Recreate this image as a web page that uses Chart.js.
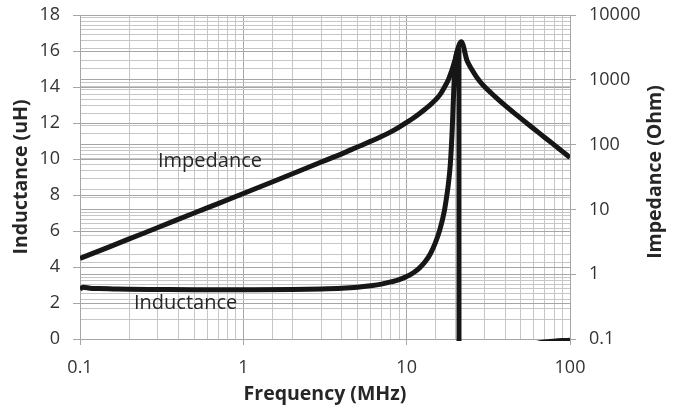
<!DOCTYPE html>
<html>
<head>
<meta charset="utf-8">
<script src="https://cdn.jsdelivr.net/npm/chart.js@4.4.1/dist/chart.umd.min.js"></script>
<style>
  html, body { margin: 0; padding: 0; background: #fff; }
  #wrap { width: 677px; height: 410px; }
</style>
</head>
<body>
<div id="wrap"><canvas id="chart"></canvas></div>
<script>
// impedance curve (MHz / Ohm)
const impFreq = [0.1, 0.15, 0.2, 0.3, 0.5, 0.7, 1, 1.5, 2, 3, 4, 5, 6, 7, 8, 9, 10, 11, 12, 13, 14, 15, 16, 17, 18, 18.5, 19, 19.5, 19.8, 20.3, 20.8, 21.2, 21.6, 22.0, 22.4, 22.8, 23.3, 24, 25, 26.5, 28, 30, 33, 36, 40, 45, 50, 60, 70, 80, 90, 100];
const impOhm = [1.75, 2.62, 3.5, 5.25, 8.8, 12.3, 17.6, 26.5, 35.5, 54, 72, 92, 112, 133, 157, 186, 220, 258, 303, 355, 415, 490, 590, 760, 1000, 1200, 1450, 1800, 2050, 2650, 3300, 3700, 3850, 3600, 3100, 2550, 2050, 1750, 1450, 1150, 950, 780, 620, 508, 403, 315, 254, 176, 129, 99, 78, 63];

// inductance curve (MHz / uH), drops through zero at resonance
const indFreq = [0.1, 0.105, 0.115, 0.13, 0.16, 0.2, 0.3, 0.5, 1, 2, 3, 4, 5, 6, 7, 8, 9, 10, 11, 12, 13, 14, 15, 16, 17, 17.5, 18, 18.5, 19, 19.3, 19.6, 20, 20.4, 20.8, 20.9, 20.95, 22, 25, 30, 40, 50, 60, 70, 80, 90, 100];
const indUH = [2.78, 2.88, 2.82, 2.8, 2.78, 2.76, 2.75, 2.74, 2.74, 2.75, 2.78, 2.82, 2.88, 2.96, 3.05, 3.17, 3.3, 3.47, 3.68, 3.95, 4.3, 4.75, 5.35, 6.1, 7.1, 7.8, 8.6, 9.7, 11.6, 13.2, 14.6, 15.6, 16.0, 16.1, 16.0, -30, -12, -4.5, -2.0, -0.8, -0.45, -0.28, -0.17, -0.12, -0.09, -0.07];

// in-plot labels
const noteText = ['Impedance', 'Inductance'];
const noteFreq = [0.625, 0.443];
const noteUH = [9.55, 1.67];

const majorGrid = '#a6a6a6';
const minorGrid = '#c6c6c6';
const tickText = '#333333';
const titleText = '#262626';

Chart.defaults.font.family = "'Open Sans', sans-serif";

const isDecade = v => Math.abs(Math.log10(v) - Math.round(Math.log10(v))) < 1e-6;
const decadeLabel = v => isDecade(v) ? String(Number(v.toPrecision(3))) : '';
const gridColor = c => (c.tick && isDecade(c.tick.value)) ? majorGrid : minorGrid;
const markColor = c => (c.tick && isDecade(c.tick.value)) ? majorGrid : 'rgba(0,0,0,0)';

const toPoints = (xs, ys) => xs.map((x, i) => ({ x: x, y: ys[i] }));

// fixed box sizes so the plot area lands where the original has it
const fixWidth = w => s => { s.width = w; s.paddingTop = 0; s.paddingBottom = 0; };

// labels inside the plot + right axis title (reads bottom-to-top)
const textLabels = {
  id: 'textLabels',
  afterDatasetsDraw(chart) {
    const { ctx, scales } = chart;
    ctx.save();
    ctx.fillStyle = titleText;
    ctx.font = "20px 'Open Sans'";
    ctx.textAlign = 'center';
    ctx.textBaseline = 'alphabetic';
    noteText.forEach((t, i) => {
      ctx.fillText(t, scales.x.getPixelForValue(noteFreq[i]), scales.y.getPixelForValue(noteUH[i]));
    });
    const y2 = scales.y2;
    ctx.font = "bold 19.5px 'Open Sans'";
    ctx.textBaseline = 'middle';
    ctx.translate(y2.right - 22, (y2.top + y2.bottom) / 2 - 5);
    ctx.rotate(-Math.PI / 2);
    ctx.fillText('Impedance (Ohm)', 0, 0);
    ctx.restore();
  }
};

new Chart(document.getElementById('chart'), {
  type: 'line',
  data: {
    datasets: [
      {
        label: 'Impedance',
        data: toPoints(impFreq, impOhm),
        yAxisID: 'y2',
        borderColor: '#161616',
        borderWidth: 5,
        pointRadius: 0,
        cubicInterpolationMode: 'monotone'
      },
      {
        label: 'Inductance',
        data: toPoints(indFreq, indUH),
        yAxisID: 'y',
        borderColor: '#161616',
        borderWidth: 5,
        pointRadius: 0,
        cubicInterpolationMode: 'monotone',
        clip: { left: 0, top: 0, right: 0, bottom: 2 }
      }
    ]
  },
  options: {
    responsive: true,
    maintainAspectRatio: false,
    animation: false,
    layout: { padding: { top: 15, left: 0, right: 0, bottom: 0 } },
    plugins: { legend: { display: false }, tooltip: { enabled: false } },
    scales: {
      x: {
        type: 'logarithmic',
        min: 0.1,
        max: 100,
        afterFit: s => { s.height = 71; },
        ticks: { autoSkip: false, maxRotation: 0, padding: 12, color: tickText, font: { size: 18 }, callback: decadeLabel },
        grid: { color: gridColor, tickColor: markColor, tickLength: 6 },
        border: { color: majorGrid },
        title: { display: true, text: 'Frequency (MHz)', color: titleText, font: { size: 19.5, weight: 'bold' }, padding: { top: 0, bottom: 4 } }
      },
      y: {
        position: 'left',
        min: 0,
        max: 18,
        afterFit: fixWidth(80),
        ticks: { stepSize: 2, padding: 13, color: tickText, font: { size: 18 } },
        grid: { color: majorGrid, tickLength: 7 },
        border: { color: majorGrid },
        title: { display: true, text: 'Inductance (uH)', color: titleText, font: { size: 19.5, weight: 'bold' }, padding: { top: 10, bottom: 0 } }
      },
      y2: {
        type: 'logarithmic',
        position: 'right',
        min: 0.1,
        max: 10000,
        afterFit: fixWidth(107),
        ticks: { autoSkip: false, padding: 13, color: tickText, font: { size: 18 }, callback: decadeLabel },
        grid: { color: gridColor, tickColor: markColor, tickLength: 6 },
        border: { color: majorGrid }
      }
    }
  },
  plugins: [textLabels]
});
</script>
</body>
</html>
